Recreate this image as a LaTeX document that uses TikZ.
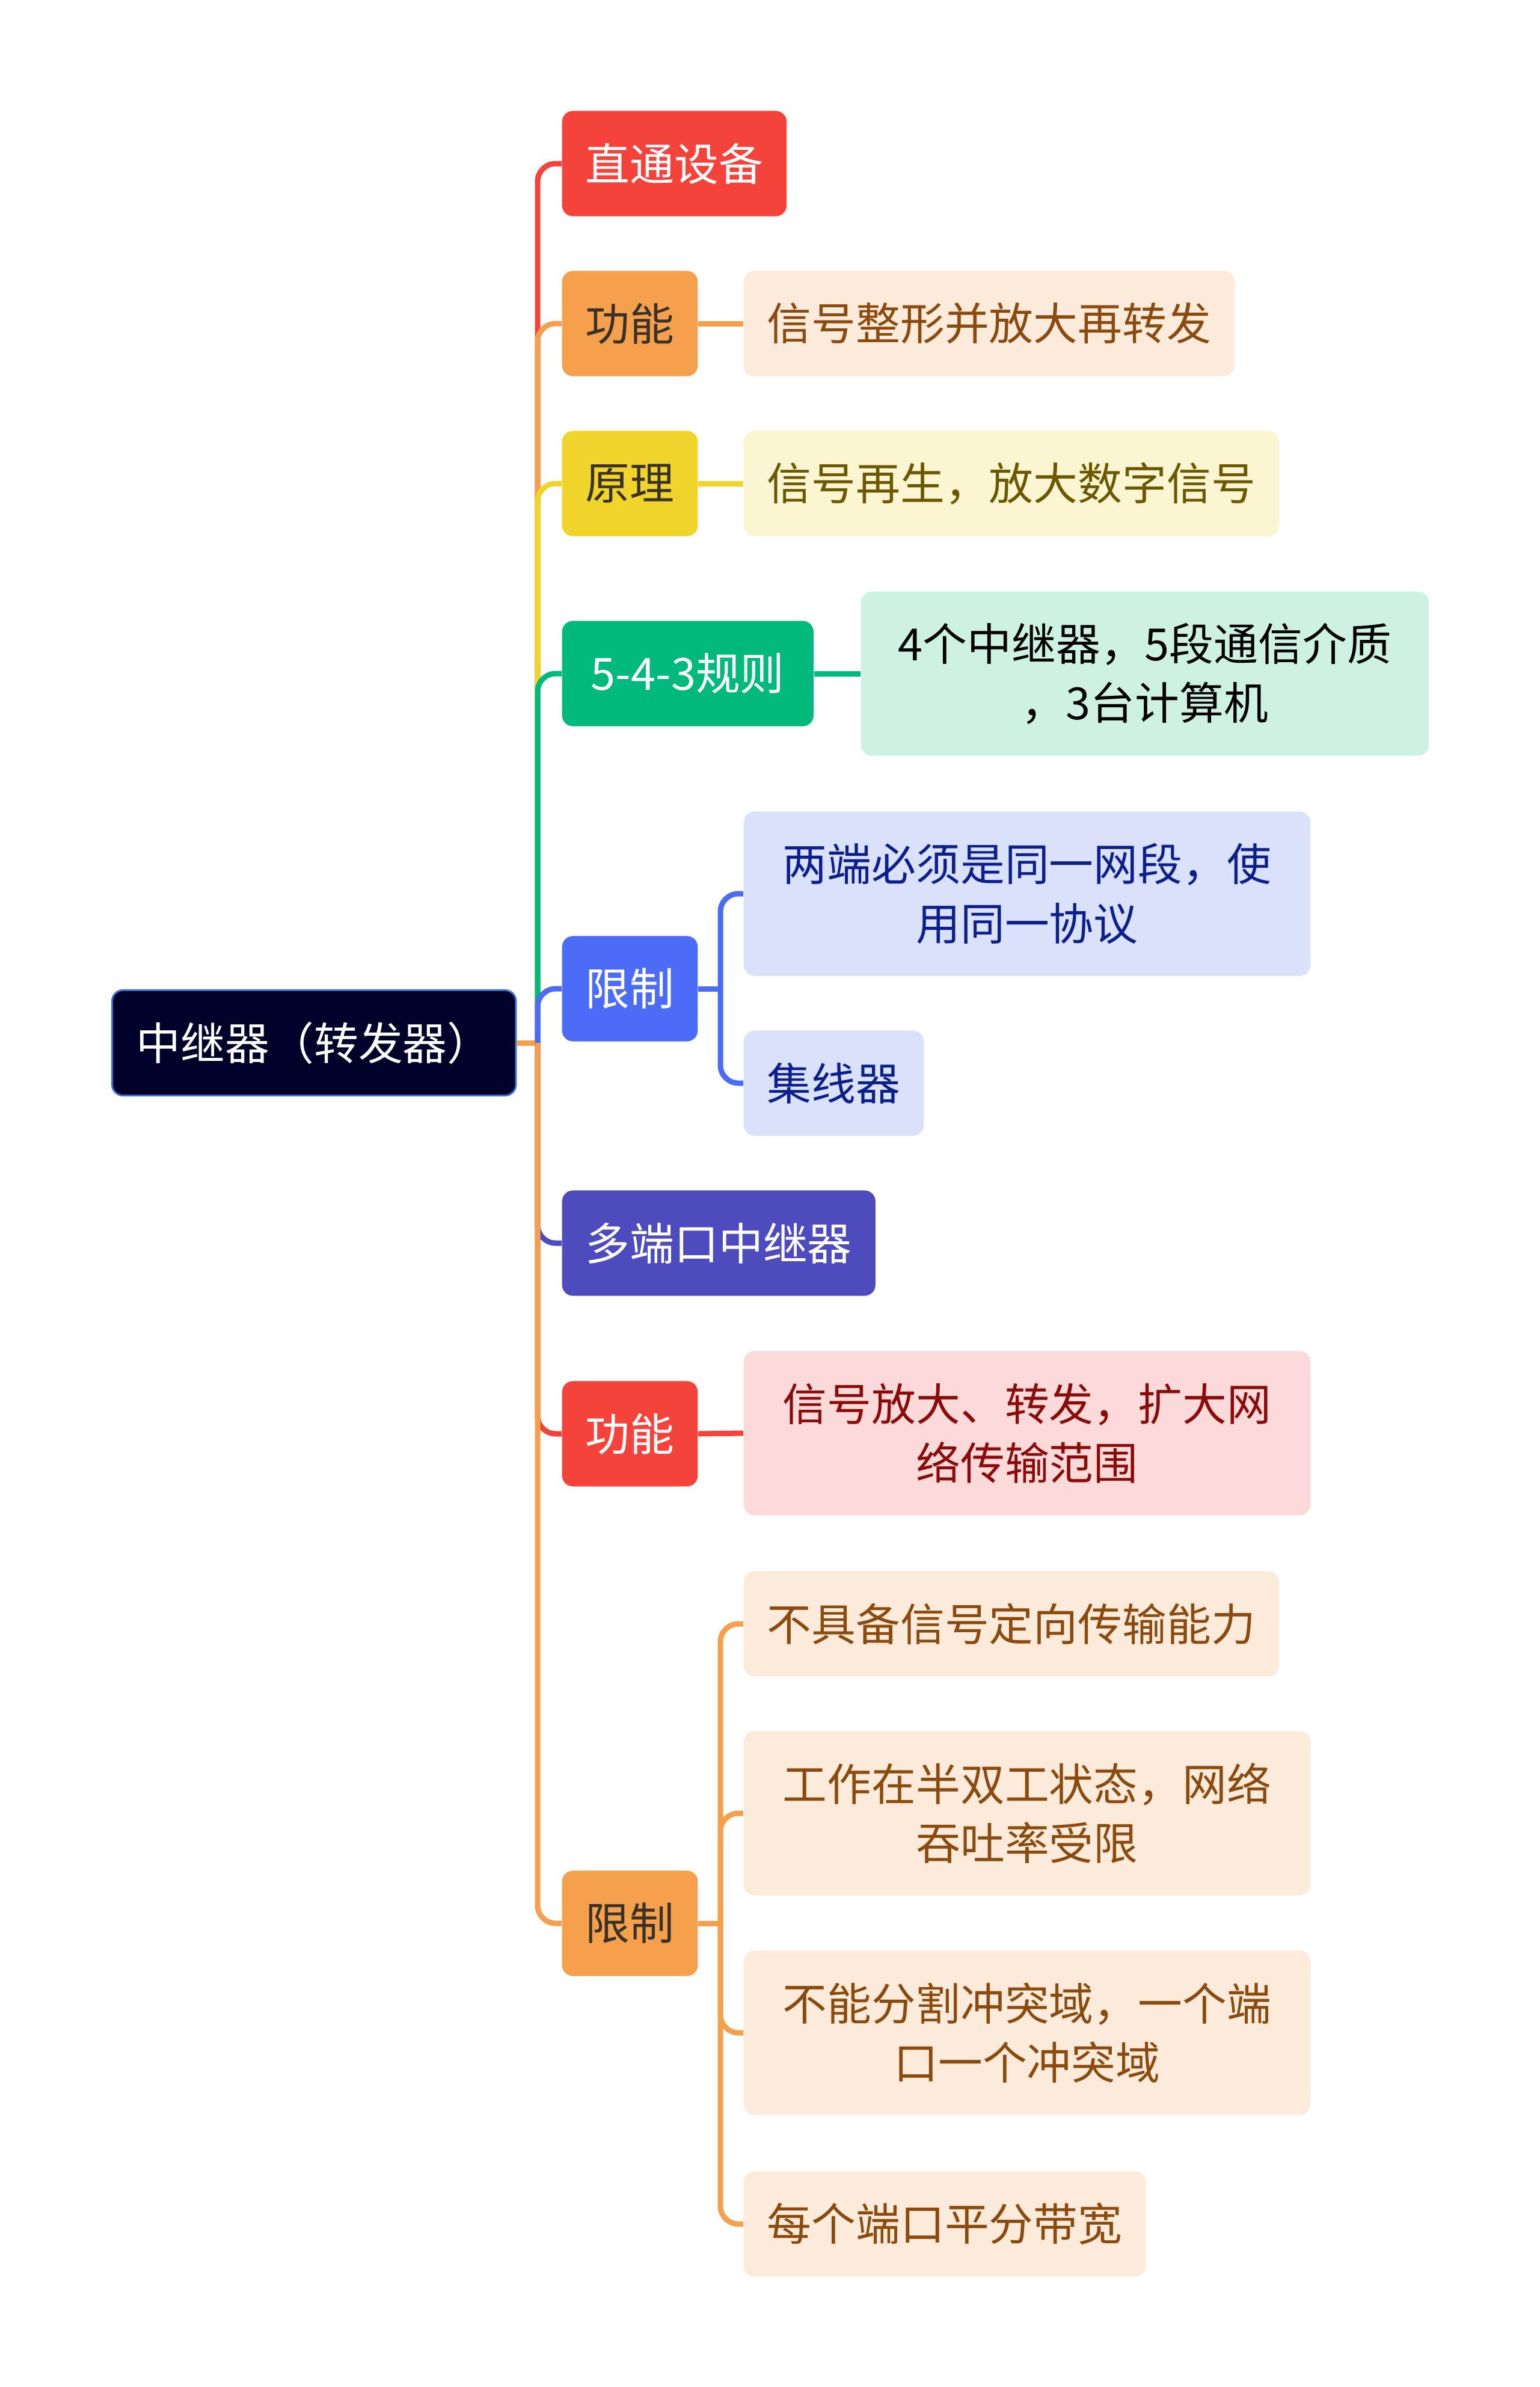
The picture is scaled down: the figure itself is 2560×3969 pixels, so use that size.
\documentclass[tikz,border=0pt]{standalone}
\usepackage{fontspec}
\setmainfont{Noto Sans CJK SC}
\usepackage{xcolor}
\usepackage{tikz}

\definecolor{cRoot}{HTML}{000229}
\definecolor{cRootLine}{HTML}{3A6FD8}
\definecolor{cRed}{HTML}{F5433B}
\definecolor{cRedL}{HTML}{FDDADA}
\definecolor{cRedT}{HTML}{8B0A0A}
\definecolor{cOrange}{HTML}{F4A04D}
\definecolor{cOrangeL}{HTML}{FCEBDB}
\definecolor{cBrown}{HTML}{8B4A0E}
\definecolor{cYellow}{HTML}{F0D42A}
\definecolor{cYellowL}{HTML}{FCF5D2}
\definecolor{cOlive}{HTML}{6B5800}
\definecolor{cGreen}{HTML}{00B97A}
\definecolor{cGreenL}{HTML}{CDF1E2}
\definecolor{cBlue}{HTML}{4A6CF7}
\definecolor{cBlueL}{HTML}{DAE1FB}
\definecolor{cNavy}{HTML}{0D1F8C}
\definecolor{cIndigo}{HTML}{4E4BBE}
\definecolor{cDark}{HTML}{3A3226}

\begin{document}
\begin{tikzpicture}[x=0.01cm, y=-0.01cm,
    box/.style={rounded corners=0.18cm, anchor=west, inner xsep=0.39cm, inner ysep=0pt,
        minimum height=1.75cm, font=\fontsize{21pt}{28pt}\selectfont},
    rootbox/.style={box, fill=cRoot, draw=cRootLine, line width=0.03cm, text=white, minimum width=6.71cm},
    topic/.style={box, fill=#1},
    leaf/.style={box, fill=#1},
    leaftwo/.style={box, fill=#1, minimum height=2.73cm, minimum width=9.42cm, align=center},
    branch/.style={line width=0.09cm, rounded corners=0.3cm}]
    \useasboundingbox (0,0) rectangle (2560,3969);
    % root
    \node[rootbox] (root) at (185,1734) {中继器（转发器）};
    % first level
    \node[topic=cRed, text=white] (ztsb) at (934,272) {直通设备};
    \node[topic=cOrange, text=cDark] (gnA) at (934,538) {功能};
    \node[topic=cYellow, text=cDark] (yl) at (934,804) {原理};
    \node[topic=cGreen, text=white, minimum width=4.18cm] (gz) at (934,1120) {5-4-3规则};
    \node[topic=cBlue, text=white] (xzA) at (934,1644) {限制};
    \node[topic=cIndigo, text=white] (ddk) at (934,2067) {多端口中继器};
    \node[topic=cRed, text=white] (gnB) at (934,2384) {功能};
    \node[topic=cOrange, text=cDark] (xzB) at (934,3198) {限制};
    % second level
    \node[leaf=cOrangeL, text=cBrown] (gnAa) at (1236,538) {信号整形并放大再转发};
    \node[leaf=cYellowL, text=cOlive] (yla) at (1236,804) {信号再生，放大数字信号};
    \node[leaftwo=cGreenL, text=black, minimum width=9.44cm] (gza) at (1431,1120) {4个中继器，5段通信介质\\，3台计算机};
    \node[leaftwo=cBlueL, text=cNavy] (xzAa) at (1236,1486) {两端必须是同一网段，使\\用同一协议};
    \node[leaf=cBlueL, text=cNavy] (xzAb) at (1236,1801) {集线器};
    \node[leaftwo=cRedL, text=cRedT] (gnBa) at (1236,2383) {信号放大、转发，扩大网\\络传输范围};
    \node[leaf=cOrangeL, text=cBrown] (xzBa) at (1236,2700) {不具备信号定向传输能力};
    \node[leaftwo=cOrangeL, text=cBrown] (xzBb) at (1236,3015) {工作在半双工状态，网络\\吞吐率受限};
    \node[leaftwo=cOrangeL, text=cBrown] (xzBc) at (1236,3380) {不能分割冲突域，一个端\\口一个冲突域};
    \node[leaf=cOrangeL, text=cBrown] (xzBd) at (1236,3698) {每个端口平分带宽};
    % connectors
    \coordinate (trunk) at (894,1734);
    \coordinate (busA) at (1198,1644);
    \coordinate (busB) at (1198,3198);
    \draw[branch, cOrange] (root.east) -- (trunk);
    \draw[branch, cRed] (trunk) |- (ztsb.west);
    \draw[branch, cOrange] (trunk) |- (gnA.west);
    \draw[branch, cYellow] (trunk) |- (yl.west);
    \draw[branch, cGreen] (trunk) |- (gz.west);
    \draw[branch, cBlue] (trunk) |- (xzA.west);
    \draw[branch, cIndigo] (trunk) |- (ddk.west);
    \draw[branch, cRed] (trunk) |- (gnB.west);
    \draw[branch, cOrange] (trunk) |- (xzB.west);
    \draw[branch, cOrange] (gnA.east) -- (gnAa.west);
    \draw[branch, cYellow] (yl.east) -- (yla.west);
    \draw[branch, cGreen] (gz.east) -- (gza.west);
    \draw[branch, cBlue] (xzA.east) -- (busA);
    \draw[branch, cBlue] (busA) |- (xzAa.west);
    \draw[branch, cBlue] (busA) |- (xzAb.west);
    \draw[branch, cRed] (gnB.east) -- (gnBa.west);
    \draw[branch, cOrange] (xzB.east) -- (busB);
    \draw[branch, cOrange] (busB) |- (xzBa.west);
    \draw[branch, cOrange] (busB) |- (xzBb.west);
    \draw[branch, cOrange] (busB) |- (xzBc.west);
    \draw[branch, cOrange] (busB) |- (xzBd.west);
\end{tikzpicture}
\end{document}
